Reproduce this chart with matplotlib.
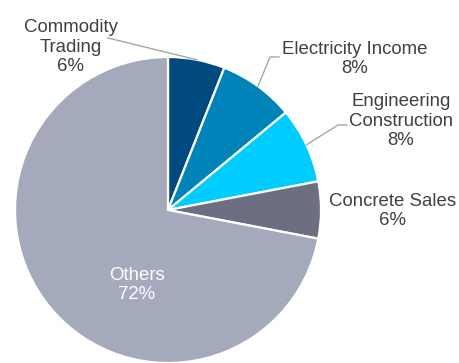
import matplotlib.pyplot as plt
import numpy as np

plt.rcParams['font.family'] = ['Liberation Sans', 'DejaVu Sans']

# revenue split
labels = ["Commodity\nTrading", "Electricity Income", "Engineering\nConstruction", "Concrete Sales", "Others"]
shares = [6, 8, 8, 6, 72]
colors = ["#004A80", "#0083B9", "#00CCFF", "#6C6F82", "#A5A9BC"]

W, H = 460, 363
fig = plt.figure(figsize=(W / 100, H / 100), dpi=100)
ax = fig.add_axes([0, 0, 1, 1])

cx, cy, r = 168, 210, 153
# y axis is flipped to pixel coords, so startangle -90 / counterclock = top, clockwise on screen
wedges, _ = ax.pie(shares, colors=colors, startangle=-90, counterclock=True,
                   radius=r, center=(cx, cy), frame=True,
                   wedgeprops=dict(edgecolor="white", linewidth=1.6))
ax.set_xlim(0, W)
ax.set_ylim(H, 0)
ax.axis("off")


def edge_point(w):
    a = np.deg2rad((w.theta1 + w.theta2) / 2)
    return cx + r * np.cos(a), cy + r * np.sin(a)


# label text positions and leader line anchors (pixels)
label_pos = [(71, 47), (355, 59), (401, 121), (393, 211), (137, 285)]
leader_start = [(108, 38), (279, 57), (347, 125), None, None]
leader_elbow = [None, (270, 57), (338, 125), None, None]

for i, (w, lab, s) in enumerate(zip(wedges, labels, shares)):
    x, y = label_pos[i]
    col = "white" if lab == "Others" else "#404040"
    ax.text(x, y, f"{lab}\n{s}%", fontsize=13.4, color=col, ha="center", va="center",
            linespacing=1.17)
    if leader_start[i] is not None:
        pts = [leader_start[i]]
        if leader_elbow[i] is not None:
            pts.append(leader_elbow[i])
        pts.append(edge_point(w))
        xs, ys = zip(*pts)
        ax.plot(xs, ys, color="#A6A6A6", lw=1.0)

fig.savefig("out.png", dpi=100)
